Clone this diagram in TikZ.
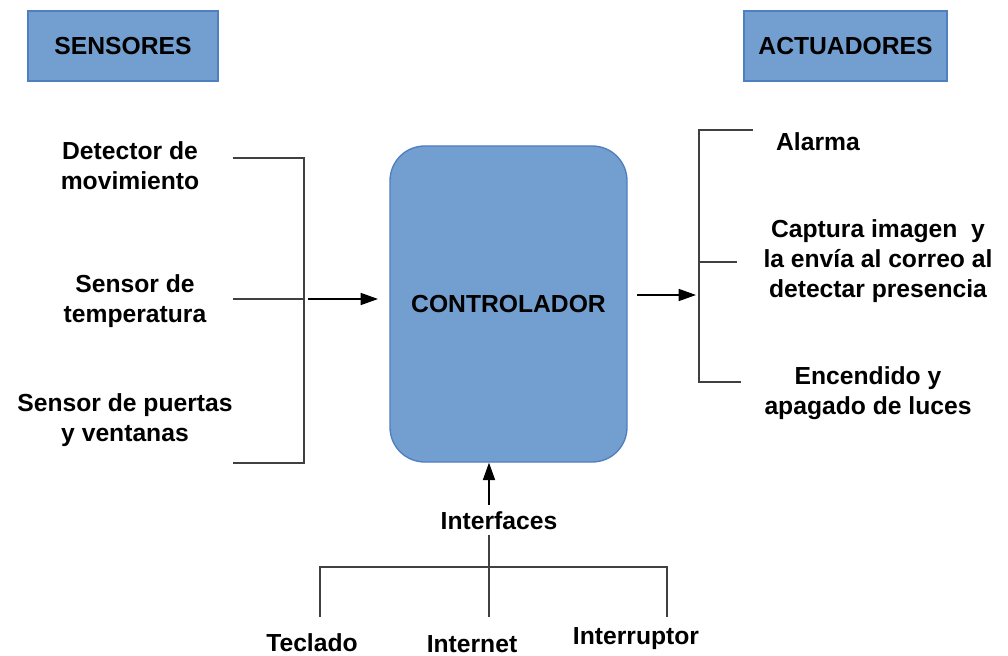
\documentclass[tikz,border=0pt]{standalone}
\usepackage{fontspec}
\setmainfont{Liberation Sans}
\usetikzlibrary{arrows.meta}
\definecolor{boxfill}{HTML}{729FCF}
\definecolor{boxline}{HTML}{4F7FC0}
\definecolor{linegray}{HTML}{404040}
\tikzset{
  lbl/.style={font=\fontsize{18.5}{22.5}\selectfont\bfseries, align=center, inner sep=0pt},
  hdr/.style={draw=boxline, fill=boxfill, line width=1pt, minimum width=190*0.75pt, minimum height=70*0.75pt, font=\fontsize{18.5}{22.5}\selectfont\bfseries, inner sep=0pt},
  ctrl/.style={draw=boxline, fill=boxfill, line width=1pt, rounded corners=26pt, minimum width=237*0.75pt, minimum height=316*0.75pt, font=\fontsize{18.5}{22.5}\selectfont\bfseries, inner sep=0pt},
  brk/.style={draw=linegray, line width=1.3pt},
  arr/.style={draw=black, line width=1.2pt, -{Triangle[length=13pt,width=9pt]}}
}
\begin{document}
\begin{tikzpicture}[x=0.75pt,y=-0.75pt]
\useasboundingbox (0,0) rectangle (1008,656);
% headers
\node[hdr] (sens) at (123,46) {SENSORES};
\node[hdr, minimum width=203*0.75pt] (act) at (845.5,46) {ACTUADORES};
% controller
\node[ctrl] (ctrl) at (508.5,304) {CONTROLADOR};
% sensors
\node[lbl] (s1) at (130,166) {Detector de\\movimiento};
\node[lbl] (s2) at (135,301) {Sensor de\\temperatura};
\node[lbl] (s3) at (125,420) {Sensor de puertas\\y ventanas};
\coordinate (l1) at (233,158);
\coordinate (l2) at (233,299);
\coordinate (l3) at (233,463);
\coordinate (b1) at (304,158);
\coordinate (b2) at (304,299);
\coordinate (b3) at (304,463);
\coordinate (a0) at (308,299);
\coordinate (a1) at (378,299);
\draw[brk] (l1) -- (b1) -- (b3) -- (l3);
\draw[brk] (l2) -- (b2);
\draw[arr] (a0) -- (a1);
% actuators
\node[lbl] (r1) at (818,142) {Alarma};
\node[lbl] (r2) at (878,261) {Captura imagen\ \ y\\la envía al correo al\\detectar presencia};
\node[lbl] (r3) at (868,393) {Encendido y\\apagado de luces};
\coordinate (v1) at (699,130);
\coordinate (v2) at (699,262);
\coordinate (v3) at (699,382);
\coordinate (e1) at (753,130);
\coordinate (e2) at (737,262);
\coordinate (e3) at (741,382);
\draw[brk] (e1) -- (v1) -- (v3) -- (e3);
\draw[brk] (v2) -- (e2);
\coordinate (c0) at (637,295);
\coordinate (c1) at (696,295);
\draw[arr] (c0) -- (c1);
% interfaces
\node[lbl] (intf) at (499,521) {Interfaces};
\coordinate (i0) at (489,505);
\draw[arr] (i0) -- (ctrl.south -| i0);
\coordinate (i1) at (489,535);
\coordinate (h1) at (320,567);
\coordinate (h2) at (667,567);
\coordinate (i2) at (489,617);
\coordinate (t1) at (320,617);
\coordinate (t3) at (667,617);
\draw[brk] (i1) -- (i2);
\draw[brk] (t1) -- (h1) -- (h2) -- (t3);
\node[lbl] (k1) at (312,643) {Teclado};
\node[lbl] (k2) at (472,644) {Internet};
\node[lbl] (k3) at (636,639) {Interruptor};
\end{tikzpicture}
\end{document}
